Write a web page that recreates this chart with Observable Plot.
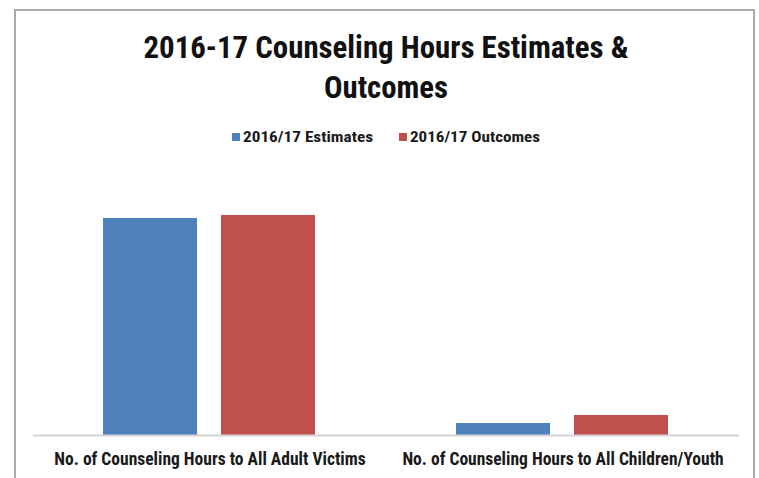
<!DOCTYPE html>
<html>
<head>
<meta charset="utf-8">
<script src="https://cdn.jsdelivr.net/npm/d3@7"></script>
<script src="https://cdn.jsdelivr.net/npm/@observablehq/plot@0.6"></script>
<style>
  html, body { margin: 0; padding: 0; background: #fff; }
  #wrap { position: relative; width: 759px; height: 478px; overflow: hidden; background: #fff; }
  #frame { position: absolute; left: 14px; top: 9px; width: 741px; height: 520px;
           border: 2px solid #a9a9a9; box-sizing: border-box; }
  #header { position: absolute; left: 0; top: 0; }
  #chart { position: absolute; left: 0; top: 150px; }
  .narrow { font-family: "Liberation Sans Narrow", "Roboto Condensed", "DejaVu Sans Condensed", "Liberation Sans", sans-serif; }
</style>
</head>
<body>
<div id="wrap">
  <div id="frame"></div>
  <div id="header"></div>
  <div id="chart"></div>
</div>
<script>
const titleLines = ["2016-17 Counseling Hours Estimates &", "Outcomes"];
const categories = ["No. of Counseling Hours to All Adult Victims", "No. of Counseling Hours to All Children/Youth"];
const series = ["2016/17 Estimates", "2016/17 Outcomes"];
const estimates = [10850, 600];
const outcomes = [11000, 1000];
const colors = ["#4f81bd", "#c0504d"];

const data = [];
categories.forEach((c, i) => {
  data.push({cat: c, series: series[0], value: estimates[i]});
  data.push({cat: c, series: series[1], value: outcomes[i]});
});

// Header: title + legend
const hdr = d3.select("#header").append("svg").attr("width", 759).attr("height", 150);
const cx = 386;
hdr.append("text").attr("class", "narrow").attr("x", cx).attr("y", 58)
  .attr("text-anchor", "middle").attr("font-size", 31).attr("font-weight", "bold")
  .attr("fill", "#111").attr("textLength", 485).attr("lengthAdjust", "spacingAndGlyphs")
  .text(titleLines[0]);
hdr.append("text").attr("class", "narrow").attr("x", cx).attr("y", 98)
  .attr("text-anchor", "middle").attr("font-size", 31).attr("font-weight", "bold")
  .attr("fill", "#111").attr("textLength", 124).attr("lengthAdjust", "spacingAndGlyphs")
  .text(titleLines[1]);

const legendStarts = [232, 399];
series.forEach((s, i) => {
  const g = hdr.append("g").attr("transform", `translate(${legendStarts[i]},0)`);
  g.append("rect").attr("x", 0).attr("y", 133).attr("width", 8).attr("height", 8).attr("fill", colors[i]);
  g.append("text").attr("class", "narrow").attr("x", 11).attr("y", 142)
    .attr("font-size", 15.5).attr("font-weight", "bold").attr("fill", "#1a1a1a")
    .attr("textLength", 130).attr("lengthAdjust", "spacingAndGlyphs")
    .text(s);
});

const chart = Plot.plot({
  width: 759,
  height: 328,
  marginTop: 45,
  marginBottom: 43,
  marginLeft: 33,
  marginRight: 20,
  style: {fontSize: "17.5px", fontWeight: "bold", fontFamily: '"Liberation Sans Narrow", "Roboto Condensed", "DejaVu Sans Condensed", "Liberation Sans", sans-serif', color: "#1a1a1a", background: "transparent"},
  fx: {domain: categories, padding: 0, label: null, tickSize: 0, tickPadding: 17, axis: "bottom"},
  x: {domain: series, paddingInner: 0.203, paddingOuter: 0.597, axis: null},
  y: {domain: [0, 12000], axis: null},
  color: {domain: series, range: colors},
  marks: [
    Plot.barY(data, {fx: "cat", x: "series", y: "value", fill: "series"}),
    Plot.ruleY([0], {stroke: "#d4d4d4", strokeWidth: 2})
  ]
});
document.getElementById("chart").appendChild(chart);
</script>
</body>
</html>
